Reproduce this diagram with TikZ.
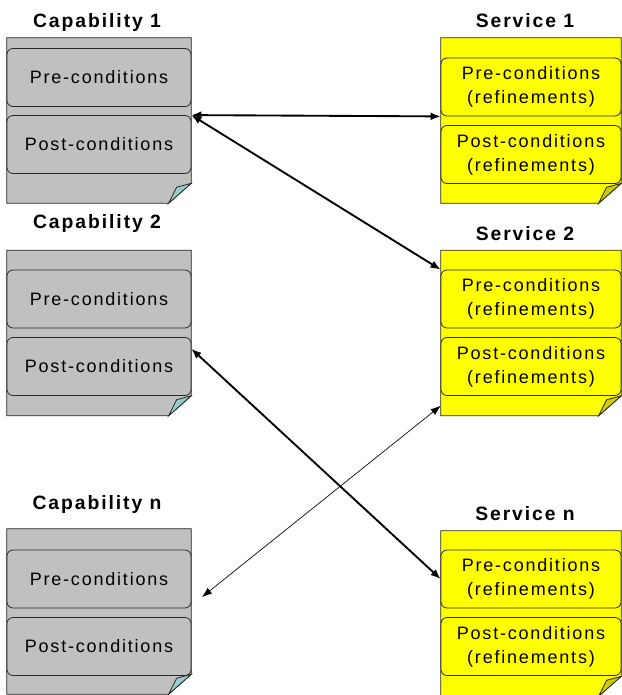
\documentclass[tikz,border=0pt]{standalone}
\usepackage{fontspec}
\setmainfont{Liberation Sans}
\newfontfamily\boxfont[LetterSpace=10]{Liberation Sans}
\usetikzlibrary{arrows.meta,calc}
\usepackage{xcolor}
\definecolor{capgray}{RGB}{192,192,192}
\definecolor{capfold}{RGB}{153,204,204}
\definecolor{srvyellow}{RGB}{255,255,0}
\definecolor{srvfold}{RGB}{204,204,0}
\definecolor{pageline}{RGB}{40,40,40}

% page outline with a turned-down corner
\newcommand{\dogear}[2]{%
  \filldraw[draw=pageline, fill=#2, line width=0.6pt] (#1.north west) -- (#1.north east)
    -- ([yshift=15pt]#1.south east) -- ([xshift=-17pt]#1.south east) -- (#1.south west) -- cycle;
}
\newcommand{\foldtip}[2]{%
  \filldraw[draw=pageline, fill=#2, line width=0.6pt] ([yshift=15pt]#1.south east)
    -- ([xshift=-17pt]#1.south east) -- ([xshift=-11pt,yshift=12pt]#1.south east) -- cycle;
}

\tikzset{
  page/.style={rectangle, minimum width=138pt, minimum height=123.75pt, inner sep=0pt},
  srvpage/.style={page, minimum width=135pt},
  cond/.style={draw=pageline, line width=0.6pt, rounded corners=4.5pt, minimum width=138pt,
    minimum height=43.5pt, inner sep=0pt, align=center, font=\boxfont\fontsize{13.5}{18}\selectfont},
  capcond/.style={cond, fill=capgray},
  srvcond/.style={cond, fill=srvyellow, minimum width=135pt},
  title/.style={font=\boxfont\bfseries\fontsize{14.5}{17}\selectfont},
  link/.style={<->, >={Latex[length=7.5pt,width=6pt]}, line width=1.4pt},
  thinlink/.style={<->, >={Latex[length=7.5pt,width=5.5pt]}, line width=0.5pt}
}

\begin{document}
\begin{tikzpicture}[x=0.75pt, y=-0.75pt]
    \path[use as bounding box, fill=white] (0,0) rectangle (621,695);

    % Capabilities
    \node[title] (cap1title) at (97,23) {Capability 1};
    \node[page] (cap1) at (99,120.5) {};
    \dogear{cap1}{capgray}
    \node[capcond] (cap1pre) at (99,77.5) {Pre-conditions};
    \node[capcond] (cap1post) at (99,144.5) {Post-conditions};
    \foldtip{cap1}{capfold}

    \node[title] (cap2title) at (97,224) {Capability 2};
    \node[page] (cap2) at (99,333) {};
    \dogear{cap2}{capgray}
    \node[capcond] (cap2pre) at (99,299) {Pre-conditions};
    \node[capcond] (cap2post) at (99,366.5) {Post-conditions};
    \foldtip{cap2}{capfold}

    \node[title] (capntitle) at (97,504) {Capability n};
    \node[page] (capn) at (99,611.5) {};
    \dogear{capn}{capgray}
    \node[capcond] (capnpre) at (99,579) {Pre-conditions};
    \node[capcond] (capnpost) at (99,646.5) {Post-conditions};
    \foldtip{capn}{capfold}

    % Services
    \node[title] (srv1title) at (525,21) {Service 1};
    \node[srvpage] (srv1) at (531,120.5) {};
    \dogear{srv1}{srvyellow}
    \node[srvcond] (srv1pre) at (531,87) {Pre-conditions\\(refinements)};
    \node[srvcond] (srv1post) at (531,154.5) {Post-conditions\\(refinements)};
    \foldtip{srv1}{srvfold}

    \node[title] (srv2title) at (525,233.5) {Service 2};
    \node[srvpage] (srv2) at (531,333) {};
    \dogear{srv2}{srvyellow}
    \node[srvcond] (srv2pre) at (531,299) {Pre-conditions\\(refinements)};
    \node[srvcond] (srv2post) at (531,366.5) {Post-conditions\\(refinements)};
    \foldtip{srv2}{srvfold}

    \node[title] (srvntitle) at (525,513.5) {Service n};
    \node[srvpage] (srvn) at (531,613.5) {};
    \dogear{srvn}{srvyellow}
    \node[srvcond] (srvnpre) at (531,579) {Pre-conditions\\(refinements)};
    \node[srvcond] (srvnpost) at (531,646.5) {Post-conditions\\(refinements)};
    \foldtip{srvn}{srvfold}

    % Matches
    \draw[link] (cap1post.north east) -- (srv1pre.south west);
    \draw[link] (cap1post.north east) -- (srv2pre.north west);
    \draw[link] ($(cap2post.north east)!0.2!(cap2post.south east)$) -- (srvnpre.west);
    \coordinate (capnend) at (202,597);
    \draw[thinlink] ([yshift=7.5pt]srv2.south west) -- (capnend);
\end{tikzpicture}
\end{document}
